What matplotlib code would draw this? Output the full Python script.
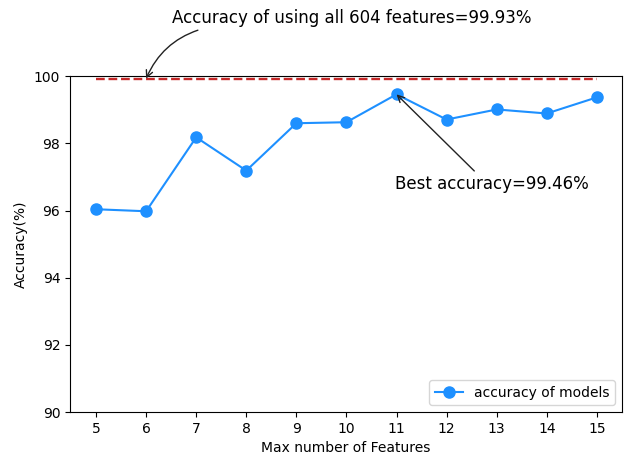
import matplotlib
matplotlib.use("Agg")
import matplotlib.pyplot as plt

# data
max_features = [5, 6, 7, 8, 9, 10, 11, 12, 13, 14, 15]
accuracy = [96.04, 95.98, 98.18, 97.19, 98.60, 98.63, 99.46, 98.71, 99.01, 98.89, 99.37]
all_features_acc = 99.93
best_idx = 6

fig = plt.figure(figsize=(6.25, 4.59), dpi=100)
ax = fig.add_axes([0.112, 0.102, 0.883, 0.732])

ax.plot(max_features, accuracy, "-o", color="#1e90ff", markersize=8,
        linewidth=1.5, label="accuracy of models")
ax.plot([max_features[0], max_features[-1]], [all_features_acc] * 2,
        "--", color="#c62828", linewidth=1.7)

ax.set_xlim(4.48, 15.5)
ax.set_ylim(90, 100)
ax.set_xticks(max_features)
ax.set_yticks([90, 92, 94, 96, 98, 100])
ax.set_xlabel("Max number of Features")
ax.set_ylabel("Accuracy(%)")
ax.legend(loc="lower right")

# annotation for the all-features baseline, text sits above the axes
ax.annotate("Accuracy of using all 604 features=99.93%",
            xy=(6, all_features_acc), xytext=(10.1, 101.72),
            fontsize=12, ha="center", va="center", annotation_clip=False,
            arrowprops=dict(arrowstyle="->", color="#222222",
                            connectionstyle="arc3,rad=0.25",
                            relpos=(0.1, 0.0), shrinkA=0, shrinkB=0))

ax.annotate("Best accuracy=%.2f%%" % accuracy[best_idx],
            xy=(max_features[best_idx], accuracy[best_idx]), xytext=(12.9, 96.8),
            fontsize=12, ha="center", va="center",
            arrowprops=dict(arrowstyle="->", color="#222222",
                            relpos=(0.43, 1.0), shrinkA=1, shrinkB=0))

fig.savefig("out.png", dpi=100)
